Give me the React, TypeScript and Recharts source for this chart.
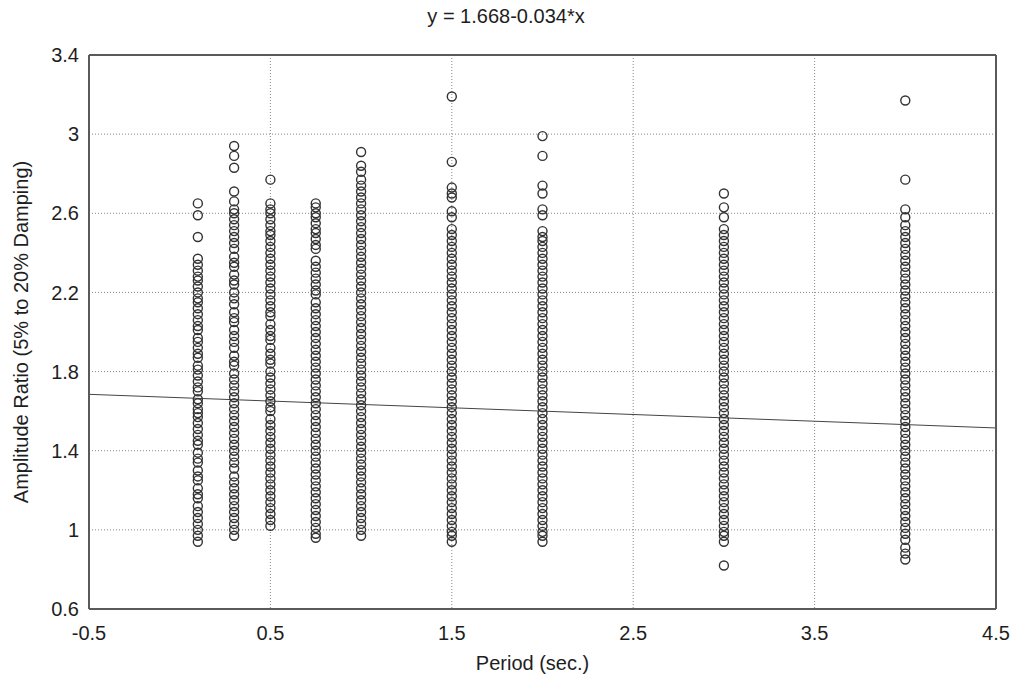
import React from "react";
import { ScatterChart, Scatter, XAxis, YAxis, CartesianGrid, ReferenceLine } from "recharts";

// Period columns (sec.)
const periods = [0.1, 0.3, 0.5, 0.75, 1.0, 1.5, 2.0, 3.0, 4.0];

// Amplitude ratios read per period column (top to bottom)
const ratioT010 = [2.65, 2.59, 2.48, 2.37, 2.34, 2.31, 2.28, 2.26, 2.23, 2.2, 2.17, 2.15, 2.12, 2.09, 2.06, 2.03, 2.01, 1.97, 1.95, 1.92, 1.89, 1.87, 1.83, 1.81, 1.78, 1.75, 1.72, 1.7, 1.66, 1.64, 1.61, 1.59, 1.57, 1.54, 1.51, 1.48, 1.45, 1.43, 1.39, 1.36, 1.34, 1.3, 1.27, 1.25, 1.21, 1.18, 1.16, 1.12, 1.09, 1.06, 1.03, 1.0, 0.97, 0.94];
const ratioT030 = [2.94, 2.89, 2.83, 2.71, 2.66, 2.62, 2.6, 2.57, 2.54, 2.51, 2.48, 2.45, 2.42, 2.38, 2.35, 2.33, 2.29, 2.26, 2.24, 2.2, 2.17, 2.14, 2.1, 2.07, 2.05, 2.01, 1.98, 1.95, 1.92, 1.88, 1.85, 1.83, 1.79, 1.76, 1.73, 1.7, 1.67, 1.64, 1.61, 1.58, 1.55, 1.52, 1.49, 1.46, 1.43, 1.4, 1.37, 1.34, 1.31, 1.27, 1.24, 1.21, 1.18, 1.15, 1.12, 1.09, 1.06, 1.03, 1.0, 0.97];
const ratioT050 = [2.77, 2.65, 2.62, 2.6, 2.57, 2.54, 2.51, 2.49, 2.46, 2.43, 2.4, 2.37, 2.34, 2.31, 2.28, 2.25, 2.22, 2.19, 2.16, 2.13, 2.1, 2.08, 2.04, 2.01, 1.98, 1.96, 1.92, 1.89, 1.86, 1.84, 1.8, 1.77, 1.74, 1.71, 1.68, 1.65, 1.62, 1.6, 1.56, 1.53, 1.5, 1.47, 1.44, 1.41, 1.38, 1.35, 1.32, 1.29, 1.26, 1.23, 1.2, 1.17, 1.14, 1.11, 1.08, 1.05, 1.02];
const ratioT075 = [2.65, 2.63, 2.6, 2.58, 2.55, 2.52, 2.5, 2.47, 2.44, 2.42, 2.36, 2.33, 2.3, 2.27, 2.24, 2.21, 2.19, 2.15, 2.12, 2.09, 2.06, 2.03, 2.0, 1.97, 1.94, 1.91, 1.88, 1.85, 1.82, 1.79, 1.76, 1.73, 1.7, 1.67, 1.64, 1.61, 1.58, 1.55, 1.52, 1.49, 1.46, 1.43, 1.4, 1.37, 1.34, 1.31, 1.28, 1.25, 1.22, 1.19, 1.16, 1.13, 1.1, 1.07, 1.04, 1.01, 0.98, 0.96];
const ratioT100 = [2.91, 2.84, 2.81, 2.77, 2.74, 2.71, 2.68, 2.65, 2.62, 2.59, 2.56, 2.53, 2.5, 2.47, 2.44, 2.41, 2.38, 2.35, 2.32, 2.29, 2.26, 2.23, 2.2, 2.17, 2.14, 2.11, 2.08, 2.05, 2.02, 1.99, 1.96, 1.93, 1.9, 1.87, 1.84, 1.81, 1.78, 1.75, 1.72, 1.69, 1.66, 1.63, 1.6, 1.57, 1.54, 1.51, 1.48, 1.45, 1.42, 1.39, 1.36, 1.33, 1.3, 1.27, 1.24, 1.21, 1.18, 1.15, 1.12, 1.09, 1.06, 1.03, 1.0, 0.97];
const ratioT150 = [3.19, 2.86, 2.73, 2.7, 2.68, 2.61, 2.58, 2.52, 2.49, 2.46, 2.43, 2.4, 2.37, 2.34, 2.31, 2.28, 2.25, 2.22, 2.19, 2.16, 2.13, 2.1, 2.07, 2.04, 2.01, 1.98, 1.95, 1.92, 1.89, 1.86, 1.83, 1.8, 1.77, 1.74, 1.71, 1.68, 1.65, 1.62, 1.59, 1.56, 1.53, 1.5, 1.47, 1.44, 1.41, 1.38, 1.35, 1.32, 1.29, 1.26, 1.23, 1.2, 1.17, 1.14, 1.11, 1.08, 1.05, 1.02, 0.99, 0.97, 0.94];
const ratioT200 = [2.99, 2.89, 2.74, 2.7, 2.62, 2.59, 2.51, 2.48, 2.46, 2.43, 2.4, 2.37, 2.34, 2.31, 2.28, 2.25, 2.22, 2.19, 2.16, 2.13, 2.1, 2.07, 2.04, 2.01, 1.98, 1.95, 1.92, 1.89, 1.86, 1.83, 1.8, 1.77, 1.74, 1.71, 1.68, 1.65, 1.62, 1.59, 1.56, 1.53, 1.5, 1.47, 1.44, 1.41, 1.38, 1.35, 1.32, 1.29, 1.26, 1.23, 1.2, 1.17, 1.14, 1.11, 1.08, 1.05, 1.02, 0.99, 0.97, 0.94];
const ratioT300 = [2.7, 2.63, 2.58, 2.52, 2.49, 2.46, 2.43, 2.4, 2.37, 2.34, 2.31, 2.28, 2.25, 2.22, 2.19, 2.16, 2.13, 2.1, 2.07, 2.04, 2.01, 1.98, 1.95, 1.92, 1.89, 1.86, 1.83, 1.8, 1.77, 1.74, 1.71, 1.68, 1.65, 1.62, 1.59, 1.56, 1.53, 1.5, 1.47, 1.44, 1.41, 1.38, 1.35, 1.32, 1.29, 1.26, 1.23, 1.2, 1.17, 1.14, 1.11, 1.08, 1.05, 1.02, 0.99, 0.97, 0.94, 0.82];
const ratioT400 = [3.17, 2.77, 2.62, 2.58, 2.54, 2.51, 2.48, 2.45, 2.42, 2.39, 2.36, 2.33, 2.3, 2.27, 2.24, 2.21, 2.18, 2.15, 2.12, 2.09, 2.06, 2.03, 2.0, 1.97, 1.94, 1.91, 1.88, 1.85, 1.82, 1.79, 1.76, 1.73, 1.7, 1.67, 1.64, 1.61, 1.58, 1.55, 1.52, 1.49, 1.46, 1.43, 1.4, 1.37, 1.34, 1.31, 1.28, 1.25, 1.22, 1.19, 1.16, 1.13, 1.1, 1.07, 1.04, 1.01, 0.98, 0.95, 0.91, 0.88, 0.85];

const columns = [ratioT010, ratioT030, ratioT050, ratioT075, ratioT100, ratioT150, ratioT200, ratioT300, ratioT400];

const xTicks = [-0.5, 0.5, 1.5, 2.5, 3.5, 4.5];
const yTicks = [0.6, 1, 1.4, 1.8, 2.2, 2.6, 3, 3.4];

// fitted line from the title
const fitIntercept = 1.668;
const fitSlope = -0.034;

const FONT = '"Liberation Sans", Arial, sans-serif';
const AXIS = "#5a5a5a";
const TEXT = "#1e1e1e";

function subdivide(ticks: number[], n: number): number[] {
  const out: number[] = [];
  for (let i = 0; i < ticks.length - 1; i++) {
    const step = (ticks[i + 1] - ticks[i]) / n;
    for (let k = 0; k < n; k++) out.push(+(ticks[i] + k * step).toFixed(4));
  }
  out.push(ticks[ticks.length - 1]);
  return out;
}

const minorX = subdivide(xTicks, 5);
const minorY = subdivide(yTicks, 5);

const points = periods.flatMap((p, i) => columns[i].map((v) => ({ x: p, y: v })));

const xMin = xTicks[0];
const xMax = xTicks[xTicks.length - 1];

function Ring(props: any) {
  const { cx, cy } = props;
  return <circle cx={cx} cy={cy} r={4.5} fill="none" stroke="#333" strokeWidth={1.4} />;
}

export default function App() {
  const tickStyle = { fontSize: 20, fill: TEXT, fontFamily: FONT };
  return (
    <div style={{ position: "absolute", left: 0, top: 0, width: 1016, height: 683, background: "#fff", fontFamily: FONT }}>
      <div style={{ position: "absolute", left: 0, width: 1012, top: 5, textAlign: "center", fontSize: 20, color: TEXT }}>
        y = 1.668-0.034*x
      </div>
      <div style={{ position: "absolute", left: 79, width: 907, top: 652, textAlign: "center", fontSize: 20, color: TEXT }}>
        Period (sec.)
      </div>
      <div
        style={{
          position: "absolute",
          left: 21,
          top: 332,
          transform: "translate(-50%, -50%) rotate(-90deg)",
          whiteSpace: "nowrap",
          fontSize: 20,
          color: TEXT,
        }}
      >
        Amplitude Ratio (5% to 20% Damping)
      </div>
      <ScatterChart width={1016} height={683} margin={{ top: 55, right: 20, bottom: 44, left: 29 }}>
        <CartesianGrid xAxisId="x" yAxisId="y" stroke="#888" strokeDasharray="1 2" />
        <XAxis
          xAxisId="x"
          dataKey="x"
          type="number"
          domain={[xMin, xMax]}
          ticks={xTicks}
          interval={0}
          height={30}
          tickSize={0}
          tickMargin={17}
          tickLine={false}
          axisLine={{ stroke: AXIS, strokeWidth: 2 }}
          tick={tickStyle}
          allowDataOverflow
        />
        <YAxis
          yAxisId="y"
          dataKey="y"
          type="number"
          domain={[0.6, 3.4]}
          ticks={yTicks}
          interval={0}
          width={60}
          tickSize={0}
          tickMargin={10}
          tickLine={false}
          axisLine={{ stroke: AXIS, strokeWidth: 2 }}
          tick={tickStyle}
          allowDataOverflow
        />
        <XAxis xAxisId="xb" type="number" orientation="bottom" mirror domain={[xMin, xMax]} ticks={minorX} interval={0} tick={false} tickSize={4} axisLine={false} tickLine={{ stroke: AXIS }} allowDataOverflow />
        <XAxis xAxisId="xt" type="number" orientation="top" mirror domain={[xMin, xMax]} ticks={minorX} interval={0} tick={false} tickSize={4} axisLine={{ stroke: AXIS, strokeWidth: 2 }} tickLine={{ stroke: AXIS }} allowDataOverflow />
        <YAxis yAxisId="yl" type="number" orientation="left" mirror domain={[0.6, 3.4]} ticks={minorY} interval={0} tick={false} tickSize={4} axisLine={false} tickLine={{ stroke: AXIS }} allowDataOverflow />
        <YAxis yAxisId="yr" type="number" orientation="right" mirror domain={[0.6, 3.4]} ticks={minorY} interval={0} tick={false} tickSize={4} axisLine={{ stroke: AXIS, strokeWidth: 2 }} tickLine={{ stroke: AXIS }} allowDataOverflow />
        <ReferenceLine
          xAxisId="x"
          yAxisId="y"
          segment={[
            { x: xMin, y: fitIntercept + fitSlope * xMin },
            { x: xMax, y: fitIntercept + fitSlope * xMax },
          ]}
          stroke="#444"
          strokeWidth={1}
          ifOverflow="visible"
        />
        <Scatter xAxisId="x" yAxisId="y" data={points} shape={<Ring />} isAnimationActive={false} />
      </ScatterChart>
    </div>
  );
}
